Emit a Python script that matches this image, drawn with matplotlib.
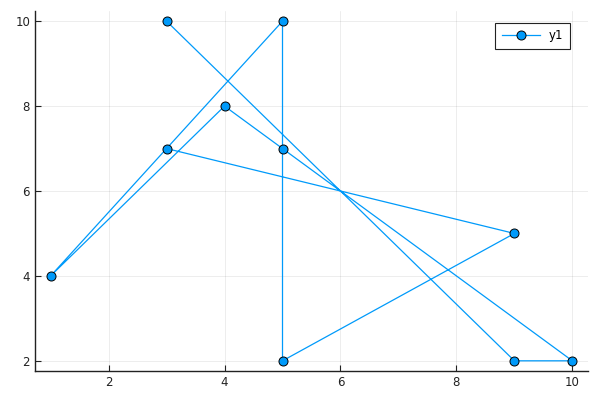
import matplotlib
matplotlib.use("Agg")
import matplotlib.pyplot as plt

# point order
x = [3, 9, 10, 5, 4, 1, 5, 5, 9, 3]
y = [10, 2, 2, 7, 8, 4, 10, 2, 5, 7]
xticks = [2, 4, 6, 8, 10]
yticks = [2, 4, 6, 8, 10]

blue = "#009AFA"

fig = plt.figure(figsize=(6, 4), dpi=100)
ax = fig.add_axes([0.0583, 0.0725, 0.9217, 0.9])

ax.plot(x, y, color=blue, lw=0.9, marker="o", ms=6.5,
        mfc=blue, mec="black", mew=0.7, label="y1", zorder=3)

ax.set_xlim(0.73, 10.27)
ax.set_ylim(1.76, 10.24)
ax.set_xticks(xticks)
ax.set_yticks(yticks)
ax.grid(True, color="black", alpha=0.1, lw=0.5)
ax.set_axisbelow(True)

for s in ["top", "right"]:
    ax.spines[s].set_visible(False)
for s in ["left", "bottom"]:
    ax.spines[s].set_linewidth(1.0)
    ax.spines[s].set_color("#222222")
ax.tick_params(direction="in", length=4, width=0.8, labelsize=8.5,
               colors="#222222")

leg = ax.legend(loc="upper right", fontsize=8.5, fancybox=False,
                framealpha=1, edgecolor="#222222", borderpad=0.55,
                handlelength=3.2, borderaxespad=0,
                bbox_to_anchor=(0.9675, 0.967))
leg.get_frame().set_linewidth(0.8)

fig.savefig("out.png", dpi=100)
